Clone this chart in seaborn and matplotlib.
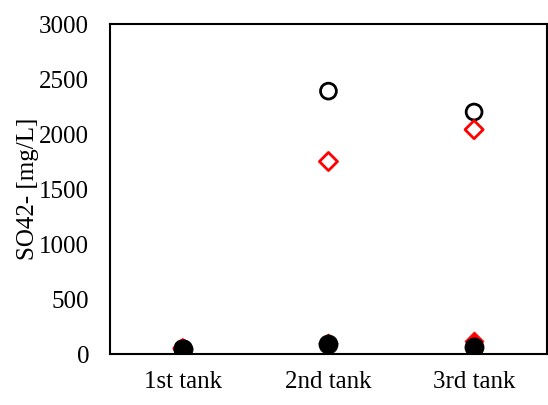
import numpy as np
import pandas as pd
import matplotlib
matplotlib.use("Agg")
import matplotlib.pyplot as plt
import seaborn as sns

# Data
tanks = ["1st tank", "2nd tank", "3rd tank"]
open_circle = [50, 2390, 2200]
open_diamond = [50, 1750, 2040]
filled_diamond = [45, 100, 115]
filled_circle = [45, 90, 60]

sns.set_style("white")
plt.rcParams["font.family"] = ["Liberation Serif", "DejaVu Serif"]
plt.rcParams["text.color"] = "black"
plt.rcParams["axes.labelcolor"] = "black"
plt.rcParams["xtick.color"] = "black"
plt.rcParams["ytick.color"] = "black"

fig = plt.figure(figsize=(5.48, 4.05), dpi=100)
ax = fig.add_axes([0.2007, 0.1259, 0.7973, 0.8148])

x = np.arange(len(tanks))

sns.scatterplot(x=x, y=open_circle, marker="o", s=130, facecolor="none",
                edgecolor="black", linewidth=2, ax=ax, zorder=3)
sns.scatterplot(x=x, y=open_diamond, marker="D", s=85, facecolor="none",
                edgecolor="red", linewidth=2, ax=ax, zorder=3)
sns.scatterplot(x=x, y=filled_diamond, marker="D", s=95, color="red",
                edgecolor="red", linewidth=0.5, ax=ax, zorder=4)
sns.scatterplot(x=x, y=filled_circle, marker="o", s=190, color="black",
                edgecolor="black", linewidth=0.5, ax=ax, zorder=5)

ax.set_xlim(-0.5, 2.5)
ax.set_ylim(0, 3000)
ax.set_xticks(x)
ax.set_xticklabels(tanks)
ax.set_yticks(range(0, 3001, 500))
ax.tick_params(axis="x", length=0, labelsize=18, pad=12, labelcolor="black")
ax.tick_params(axis="y", length=0, labelsize=18, pad=15, labelcolor="black")
ax.set_ylabel("SO42- [mg/L]", fontsize=18, labelpad=0, color="black")

for sp in ax.spines.values():
    sp.set_color("black")
    sp.set_linewidth(1.5)

fig.savefig("out.png", dpi=100)
